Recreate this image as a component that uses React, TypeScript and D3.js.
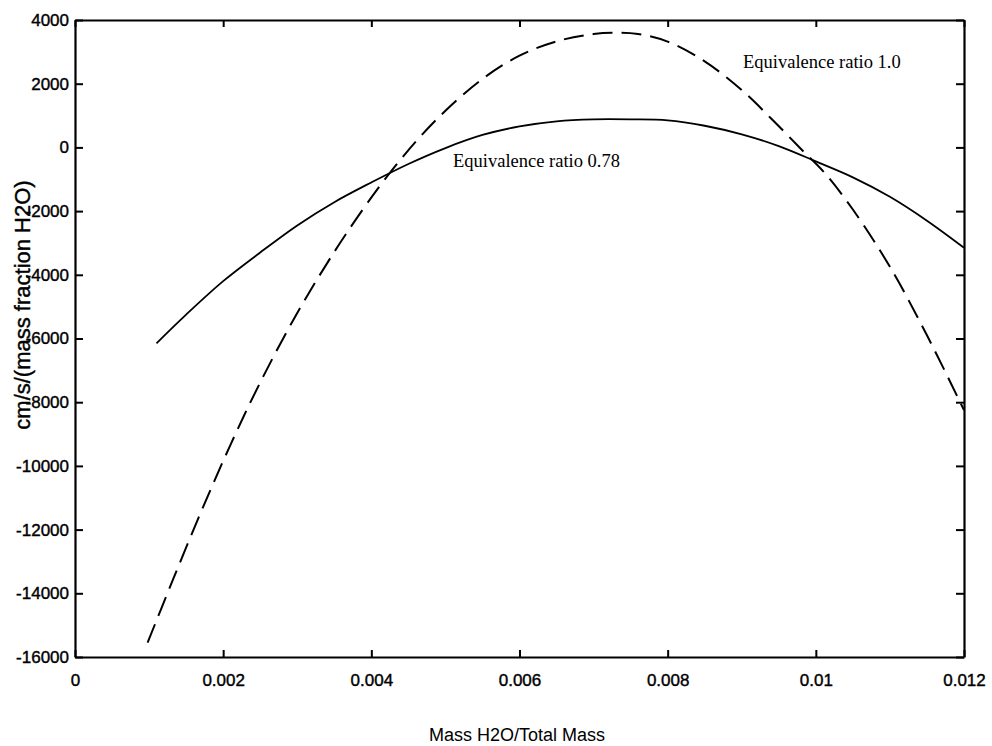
import React, { useEffect, useRef } from "react";
import * as d3 from "d3";

const W = 992;
const H = 746;
const margin = { top: 20, right: 28, bottom: 89, left: 75 };
const width = W - margin.left - margin.right;
const height = H - margin.top - margin.bottom;

// Equivalence ratio 1.0 (dashed)
const massRatio10 = [0.00098, 0.0013, 0.0017, 0.0021, 0.0025, 0.003, 0.0035, 0.0039, 0.0042, 0.0046, 0.005, 0.0055, 0.006, 0.0065, 0.007, 0.0073, 0.0076, 0.008, 0.0085, 0.009, 0.0094, 0.0098, 0.0101, 0.0105, 0.011, 0.0115, 0.012];
const sens10 = [-15550, -13700, -11450, -9330, -7380, -5200, -3280, -1900, -950, 180, 1150, 2150, 2880, 3330, 3560, 3600, 3560, 3320, 2700, 1800, 900, -50, -750, -1950, -3750, -5900, -8250];

// Equivalence ratio 0.78 (solid)
const massRatio078 = [0.0011, 0.0015, 0.002, 0.0025, 0.003, 0.0035, 0.004, 0.0045, 0.005, 0.0055, 0.006, 0.0065, 0.007, 0.0075, 0.008, 0.0085, 0.009, 0.0095, 0.01, 0.0105, 0.011, 0.0115, 0.012];
const sens078 = [-6150, -5250, -4200, -3300, -2450, -1720, -1100, -520, -20, 390, 660, 820, 880, 880, 850, 680, 410, 40, -440, -940, -1550, -2300, -3150];

const xTicks = [0, 0.002, 0.004, 0.006, 0.008, 0.01, 0.012];
const yTicks = [4000, 2000, 0, -2000, -4000, -6000, -8000, -10000, -12000, -14000, -16000];

const tickFont = "'Liberation Sans', Arial, sans-serif";
const serifFont = "'Liberation Serif', 'Times New Roman', serif";

function drawChart(svgEl: SVGSVGElement) {
  const svg = d3.select(svgEl);
  svg.selectAll("*").remove();

  const g = svg.append("g").attr("transform", `translate(${margin.left},${margin.top})`);

  const x = d3.scaleLinear().domain([0, 0.012]).range([0, width]);
  const y = d3.scaleLinear().domain([-16000, 4000]).range([height, 0]);

  const fmt = (d: any) => String(d);

  // axes, ticks pointing inward
  const bottom = g.append("g")
    .attr("transform", `translate(0,${height})`)
    .call(d3.axisBottom(x).tickValues(xTicks).tickFormat(fmt).tickSizeInner(-7).tickSizeOuter(0).tickPadding(17));
  const left = g.append("g")
    .call(d3.axisLeft(y).tickValues(yTicks).tickFormat(fmt).tickSizeInner(-8).tickSizeOuter(0).tickPadding(6));
  const top = g.append("g")
    .call(d3.axisTop(x).tickValues(xTicks).tickFormat(() => "").tickSizeInner(-7).tickSizeOuter(0));
  const right = g.append("g")
    .attr("transform", `translate(${width},0)`)
    .call(d3.axisRight(y).tickValues(yTicks).tickFormat(() => "").tickSizeInner(-8).tickSizeOuter(0));

  [bottom, left, top, right].forEach(a => {
    a.select(".domain").attr("stroke", "#000").attr("stroke-width", 2.2);
    a.selectAll(".tick line").attr("stroke", "#000").attr("stroke-width", 2);
    a.selectAll(".tick text")
      .attr("fill", "#000")
      .attr("stroke", "#000")
      .attr("stroke-width", 0.4)
      .style("font-family", tickFont)
      .style("font-size", "17px");
  });

  const line = d3.line<[number, number]>()
    .x(d => x(d[0]))
    .y(d => y(d[1]))
    .curve(d3.curveCatmullRom);

  const data10: [number, number][] = massRatio10.map((m, i) => [m, sens10[i]]);
  const data078: [number, number][] = massRatio078.map((m, i) => [m, sens078[i]]);

  g.append("path")
    .datum(data078)
    .attr("d", line)
    .attr("fill", "none")
    .attr("stroke", "#000")
    .attr("stroke-width", 1.8);

  g.append("path")
    .datum(data10)
    .attr("d", line)
    .attr("fill", "none")
    .attr("stroke", "#000")
    .attr("stroke-width", 2)
    .attr("stroke-dasharray", "20,9");

  // curve labels
  svg.append("text")
    .attr("x", 743)
    .attr("y", 68)
    .style("font-family", serifFont)
    .style("font-size", "18.5px")
    .text("Equivalence ratio 1.0");

  svg.append("text")
    .attr("x", 453)
    .attr("y", 167)
    .style("font-family", serifFont)
    .style("font-size", "18.5px")
    .text("Equivalence ratio 0.78");

  // axis titles
  svg.append("text")
    .attr("x", 517)
    .attr("y", 741)
    .attr("text-anchor", "middle")
    .style("font-family", tickFont)
    .style("font-size", "18px")
    .text("Mass H2O/Total Mass");

  svg.append("text")
    .attr("transform", `translate(30,305) rotate(-90)`)
    .attr("text-anchor", "middle")
    .attr("stroke", "#000")
    .attr("stroke-width", 0.4)
    .style("font-family", tickFont)
    .style("font-size", "22px")
    .text("cm/s/(mass fraction H2O)");
}

export default function App() {
  const svgRef = useRef<SVGSVGElement>(null);

  useEffect(() => {
    if (svgRef.current) drawChart(svgRef.current);
  }, []);

  return (
    <svg
      ref={svgRef}
      width={W}
      height={H}
      style={{ position: "absolute", left: 0, top: 0, background: "#fff" }}
    />
  );
}
